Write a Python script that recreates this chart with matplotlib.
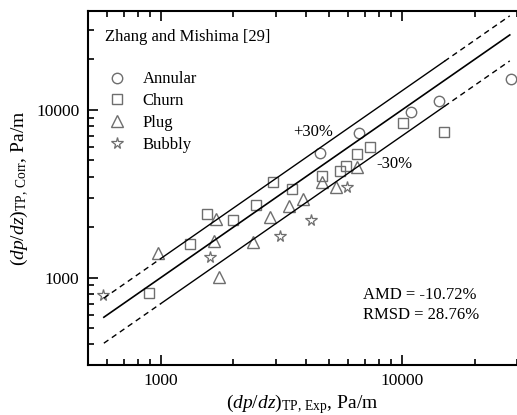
import numpy as np
import matplotlib.pyplot as plt
from matplotlib.ticker import LogLocator, NullFormatter, FixedLocator

plt.rcParams['font.family'] = ['Liberation Serif', 'DejaVu Serif']
plt.rcParams['mathtext.fontset'] = 'custom'
plt.rcParams['mathtext.rm'] = 'Liberation Serif'
plt.rcParams['mathtext.it'] = 'Liberation Serif:italic'

# experimental vs correlated pressure gradient, Pa/m
annular_exp = [4560, 6640, 10900, 14300, 28200]
annular_cor = [5520, 7260, 9770, 11300, 15300]

churn_exp = [892, 1320, 1550, 1995, 2470, 2920, 3510, 4670, 5520, 5840, 6530, 7360, 10100, 14900]
churn_cor = [807, 1590, 2400, 2190, 2720, 3730, 3390, 4060, 4350, 4660, 5450, 6040, 8400, 7360]

plug_exp = [975, 1660, 1740, 1690, 2420, 2830, 3400, 3870, 4640, 5310, 6530]
plug_cor = [1400, 1660, 1005, 2240, 1630, 2290, 2680, 2950, 3730, 3480, 4550]

bubbly_exp = [573, 1600, 3120, 4190, 5900]
bubbly_cor = [789, 1320, 1760, 2210, 3490]

line_ends = [580, 28000]
band_solid = [1000, 15000]

fig = plt.figure(figsize=(5.17, 4.15), dpi=100)
ax = fig.add_axes([0.170, 0.1205, 0.830, 0.853])

gray = '#6e6e6e'
ms = 7.5
ax.plot(annular_exp, annular_cor, 'o', ms=ms, mfc='none', mec=gray, mew=1.0, label='Annular')
ax.plot(churn_exp, churn_cor, 's', ms=ms - 0.5, mfc='none', mec=gray, mew=1.0, label='Churn')
ax.plot(plug_exp, plug_cor, '^', ms=ms + 0.5, mfc='none', mec=gray, mew=1.0, label='Plug')
ax.plot(bubbly_exp, bubbly_cor, '*', ms=ms + 1, mfc='none', mec=gray, mew=0.9, label='Bubbly')

x = np.array(line_ends, dtype=float)
ax.plot(x, x, '-', color='k', lw=1.2)
for f in (1.3, 0.7):
    xs = np.array([line_ends[0], band_solid[0]], dtype=float)
    ax.plot(xs, f * xs, '--', color='k', lw=1.0, dashes=(4, 3))
    xs = np.array(band_solid, dtype=float)
    ax.plot(xs, f * xs, '-', color='k', lw=1.0)
    xs = np.array([band_solid[1], line_ends[1]], dtype=float)
    ax.plot(xs, f * xs, '--', color='k', lw=1.0, dashes=(4, 3))

ax.set_xscale('log')
ax.set_yscale('log')
ax.set_xlim(498, 30000)
ax.set_ylim(301, 38900)

ax.xaxis.set_major_locator(FixedLocator([1000, 10000]))
ax.yaxis.set_major_locator(FixedLocator([1000, 10000]))
ax.set_xticklabels(['1000', '10000'])
ax.set_yticklabels(['1000', '10000'])
ax.xaxis.set_minor_locator(LogLocator(base=10, subs=np.arange(2, 10)))
ax.yaxis.set_minor_locator(LogLocator(base=10, subs=np.arange(2, 10)))
ax.xaxis.set_minor_formatter(NullFormatter())
ax.yaxis.set_minor_formatter(NullFormatter())
ax.tick_params(which='both', direction='in', top=True, right=False, labelsize=12.5, width=1.2)
ax.tick_params(which='major', length=7, pad=6)
ax.tick_params(which='minor', length=4)

ax.spines['right'].set_visible(False)
for s in ('left', 'bottom', 'top'):
    ax.spines[s].set_linewidth(1.5)

ax.set_xlabel(r'$(dp/dz)_{\mathrm{TP,\,Exp}}$, Pa/m', fontsize=14, labelpad=2)
ax.set_ylabel(r'$(dp/dz)_{\mathrm{TP,\,Corr}}$, Pa/m', fontsize=14, labelpad=4)

ax.text(0.04, 0.915, 'Zhang and Mishima [29]', transform=ax.transAxes, fontsize=12)
ax.legend(loc='upper left', bbox_to_anchor=(0.03, 0.848), frameon=False, fontsize=12,
          handletextpad=0.9, labelspacing=0.35, borderaxespad=0, handlelength=1.2)

ax.text(0.479, 0.648, '+30%', transform=ax.transAxes, fontsize=12)
ax.text(0.672, 0.556, '-30%', transform=ax.transAxes, fontsize=12)
ax.text(0.64, 0.13, 'AMD = -10.72%\nRMSD = 28.76%', transform=ax.transAxes, fontsize=12,
        linespacing=1.3)

fig.savefig('out.png', dpi=100)
